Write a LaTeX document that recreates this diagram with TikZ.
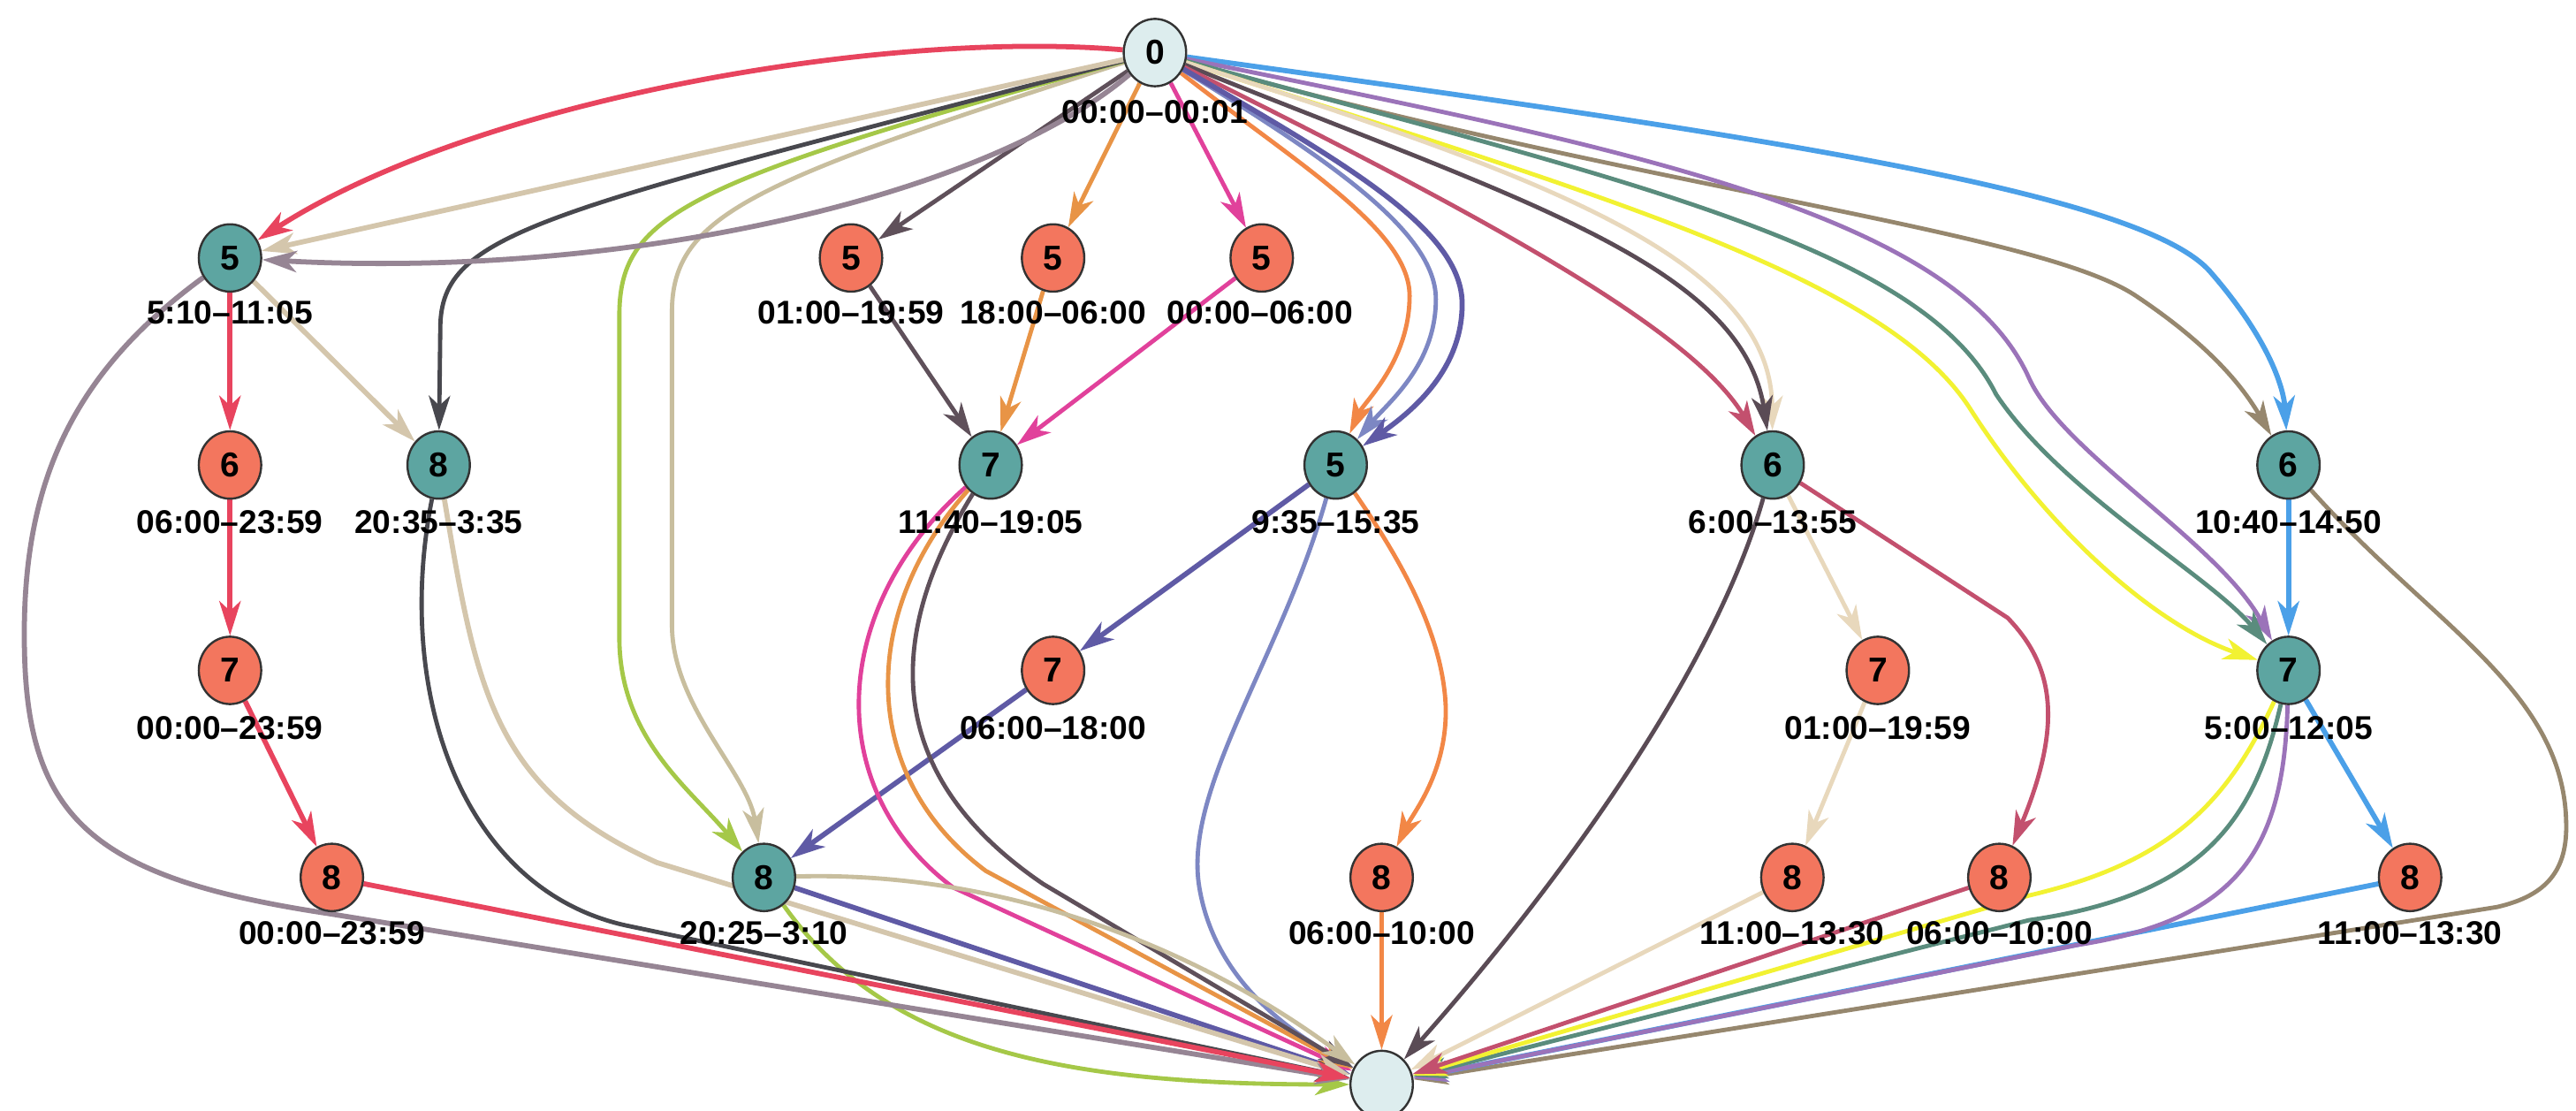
\documentclass[tikz,border=0pt]{standalone}
\usepackage{fontspec}
\setmainfont{Liberation Sans}
\usetikzlibrary{shapes.geometric,arrows.meta}
\pgfdeclarelayer{bg}
\pgfsetlayers{bg,main}
\definecolor{tealc}{RGB}{93,165,161}
\definecolor{salc}{RGB}{243,118,94}
\definecolor{lightc}{RGB}{221,237,238}
\definecolor{cRed}{RGB}{232,68,94}
\definecolor{cMauve}{RGB}{150,133,148}
\definecolor{cTan}{RGB}{212,198,172}
\definecolor{cDark}{RGB}{72,72,78}
\definecolor{cGreen}{RGB}{165,200,72}
\definecolor{cKhaki}{RGB}{200,190,158}
\definecolor{cSlate}{RGB}{95,90,165}
\definecolor{cPlum}{RGB}{95,80,90}
\definecolor{cOrange}{RGB}{232,148,70}
\definecolor{cPink}{RGB}{225,65,155}
\definecolor{cOrangeB}{RGB}{242,135,70}
\definecolor{cPeri}{RGB}{125,135,195}
\definecolor{cRose}{RGB}{195,80,110}
\definecolor{cDkBrown}{RGB}{90,75,85}
\definecolor{cWheat}{RGB}{232,216,188}
\definecolor{cYellow}{RGB}{242,242,50}
\definecolor{cTeal}{RGB}{90,140,125}
\definecolor{cPurple}{RGB}{155,115,185}
\definecolor{cBlue}{RGB}{75,160,232}
\definecolor{cBrown}{RGB}{150,135,110}
\tikzset{
  nd/.style={ellipse, draw=black!80, line width=1.3pt, minimum width=38pt, minimum height=41pt, inner sep=0pt, font=\fontsize{21}{23}\selectfont\bfseries},
  nteal/.style={nd, fill=tealc},
  nsal/.style={nd, fill=salc},
  nlight/.style={nd, fill=lightc},
  lbl/.style={font=\fontsize{20}{22}\selectfont\bfseries, inner sep=0pt},
  ed/.style={line width=2.6pt, -{Stealth[length=21pt,width=13pt,inset=6pt]}},
  edw/.style={ed, line width=3.1pt},
  eRed/.style={edw, draw=cRed},
  eMauve/.style={edw, draw=cMauve},
  eTan/.style={edw, draw=cTan},
  eDark/.style={ed, draw=cDark},
  eGreen/.style={ed, draw=cGreen},
  eKhaki/.style={ed, draw=cKhaki},
  eSlate/.style={edw, draw=cSlate},
  ePlum/.style={ed, draw=cPlum},
  eOrange/.style={ed, draw=cOrange},
  ePink/.style={ed, draw=cPink},
  eOrangeB/.style={ed, draw=cOrangeB},
  ePeri/.style={ed, draw=cPeri},
  eRose/.style={ed, draw=cRose},
  eDkBrown/.style={ed, draw=cDkBrown},
  eWheat/.style={ed, draw=cWheat},
  eYellow/.style={ed, draw=cYellow},
  eTeal/.style={ed, draw=cTeal},
  ePurple/.style={ed, draw=cPurple},
  eBlue/.style={edw, draw=cBlue},
  eBrown/.style={ed, draw=cBrown},
}
\begin{document}
\begin{tikzpicture}[x=1pt,y=-1pt]
\useasboundingbox (0,0) rectangle (1568,676);
% nodes
\node[nlight] (n0) at (703,32) {0};
\node[nteal] (a5) at (140,157) {5};
\node[nsal] (b5) at (518,157) {5};
\node[nsal] (c5) at (641,157) {5};
\node[nsal] (d5) at (768,157) {5};
\node[nsal] (a6) at (140,283) {6};
\node[nteal] (b8) at (267,283) {8};
\node[nteal] (c7) at (603,283) {7};
\node[nteal] (e5) at (813,283) {5};
\node[nteal] (f6) at (1079,283) {6};
\node[nteal] (g6) at (1393,283) {6};
\node[nsal] (a7) at (140,408) {7};
\node[nsal] (h7) at (641,408) {7};
\node[nsal] (i7) at (1143,408) {7};
\node[nteal] (j7) at (1393,408) {7};
\node[nsal] (a8) at (202,534) {8};
\node[nteal] (k8) at (465,534) {8};
\node[nsal] (l8) at (841,534) {8};
\node[nsal] (m8) at (1091,534) {8};
\node[nsal] (n8) at (1217,534) {8};
\node[nsal] (o8) at (1467,534) {8};
\node[nlight] (sink) at (841,660) {};
% labels
\node[lbl] (l0) at (703,68) {00:00–00:01};
\node[lbl] (la5) at (140,190) {5:10–11:05};
\node[lbl] (lb5) at (518,190) {01:00–19:59};
\node[lbl] (lc5) at (641,190) {18:00–06:00};
\node[lbl] (ld5) at (767,190) {00:00–06:00};
\node[lbl] (la6) at (140,318) {06:00–23:59};
\node[lbl] (lb8) at (267,318) {20:35–3:35};
\node[lbl] (lc7) at (603,318) {11:40–19:05};
\node[lbl] (le5) at (813,318) {9:35–15:35};
\node[lbl] (lf6) at (1079,318) {6:00–13:55};
\node[lbl] (lg6) at (1393,318) {10:40–14:50};
\node[lbl] (la7) at (140,443) {00:00–23:59};
\node[lbl] (lh7) at (641,443) {06:00–18:00};
\node[lbl] (li7) at (1143,443) {01:00–19:59};
\node[lbl] (lj7) at (1393,443) {5:00–12:05};
\node[lbl] (la8) at (202,568) {00:00–23:59};
\node[lbl] (lk8) at (465,568) {20:25–3:10};
\node[lbl] (ll8) at (841,568) {06:00–10:00};
\node[lbl] (lm8) at (1091,568) {11:00–13:30};
\node[lbl] (ln8) at (1217,568) {06:00–10:00};
\node[lbl] (lo8) at (1467,568) {11:00–13:30};
\begin{pgfonlayer}{bg}
\fill[white] (0,0) rectangle (1568,676);
% right side bundles first
\draw[eBrown] (n0) .. controls (1000,115) and (1240,140) .. (1300,180) .. controls (1345,210) and (1365,235) .. (g6);
\draw[eBrown] (g6) .. controls (1480,380) and (1560,420) .. (1562,500) .. controls (1563,530) and (1550,545) .. (1520,552) -- (sink);
\draw[eBlue] (n0) .. controls (1050,80) and (1300,115) .. (1345,165) .. controls (1380,205) and (1390,235) .. (g6);
\draw[eBlue] (g6) -- (j7);
\draw[eBlue] (j7) -- (o8);
\draw[eBlue] (o8) -- (sink);
\draw[ePurple] (n0) .. controls (990,90) and (1190,130) .. (1235,230) .. controls (1255,275) and (1350,330) .. (j7);
\draw[ePurple] (j7) .. controls (1390,520) and (1360,560) .. (1265,575) -- (sink);
\draw[eTeal] (n0) .. controls (990,110) and (1170,150) .. (1215,240) .. controls (1255,300) and (1345,350) .. (j7);
\draw[eTeal] (j7) .. controls (1372,500) and (1340,545) .. (1235,560) -- (sink);
\draw[eYellow] (n0) .. controls (980,120) and (1150,170) .. (1200,250) .. controls (1245,320) and (1310,380) .. (j7);
\draw[eYellow] (j7) .. controls (1355,490) and (1320,525) .. (1235,545) -- (sink);
\draw[eWheat] (n0) .. controls (950,110) and (1078,160) .. (f6);
\draw[eWheat] (f6) -- (i7);
\draw[eWheat] (i7) -- (m8);
\draw[eWheat] (m8) -- (sink);
\draw[eDkBrown] (n0) .. controls (920,120) and (1060,160) .. (f6);
\draw[eDkBrown] (f6) .. controls (1040,420) and (930,560) .. (sink);
\draw[eRose] (n0) .. controls (900,130) and (1030,200) .. (f6);
\draw[eRose] (f6) -- (1222,376) .. controls (1250,405) and (1256,440) .. (n8);
\draw[eRose] (n8) -- (sink);
% middle
\draw[eOrangeB] (n0) .. controls (790,100) and (858,140) .. (858,180) .. controls (858,220) and (830,245) .. (e5);
\draw[eOrangeB] (e5) .. controls (845,330) and (878,380) .. (880,430) .. controls (881,470) and (860,495) .. (l8);
\draw[eOrangeB] (l8) -- (sink);
\draw[ePeri] (n0) .. controls (805,95) and (874,140) .. (874,182) .. controls (874,222) and (845,245) .. (e5);
\draw[ePeri] (e5) .. controls (780,400) and (720,480) .. (730,540) .. controls (740,600) and (790,630) .. (sink);
\draw[eSlate] (n0) .. controls (820,100) and (890,140) .. (890,185) .. controls (890,225) and (860,250) .. (e5);
\draw[eSlate] (e5) -- (h7);
\draw[eSlate] (h7) -- (k8);
\draw[eSlate] (k8) -- (sink);
\draw[ePink] (n0) -- (d5);
\draw[ePink] (d5) -- (c7);
\draw[ePink] (c7) .. controls (505,370) and (500,480) .. (580,540) -- (sink);
\draw[eOrange] (n0) -- (c5);
\draw[eOrange] (c5) -- (c7);
\draw[eOrange] (c7) .. controls (525,370) and (520,470) .. (600,530) -- (sink);
\draw[ePlum] (n0) -- (b5);
\draw[ePlum] (b5) -- (c7);
\draw[ePlum] (c7) .. controls (540,385) and (535,470) .. (635,538) -- (sink);
% left
\draw[eKhaki] (n0) .. controls (460,110) and (409,130) .. (409,190) -- (409,380) .. controls (409,430) and (455,470) .. (k8);
\draw[eKhaki] (k8) .. controls (600,530) and (720,570) .. (sink);
\draw[eGreen] (n0) .. controls (420,110) and (378,130) .. (377,190) -- (377,390) .. controls (378,450) and (420,480) .. (k8);
\draw[eGreen] (k8) .. controls (540,640) and (650,660) .. (sink);
\draw[eDark] (n0) .. controls (330,130) and (268,140) .. (268,200) -- (b8);
\draw[eDark] (b8) .. controls (240,420) and (280,540) .. (380,563) -- (sink);
\draw[eTan] (n0) -- (a5);
\draw[eTan] (a5) -- (b8);
\draw[eTan] (b8) .. controls (290,420) and (300,480) .. (400,525) -- (sink);
\draw[eMauve] (n0) .. controls (600,120) and (380,170) .. (a5);
\draw[eMauve] (a5) .. controls (40,230) and (12,300) .. (15,400) .. controls (18,500) and (60,535) .. (200,556) -- (sink);
\draw[eRed] (n0) .. controls (540,18) and (290,60) .. (a5);
\draw[eRed] (a5) -- (a6);
\draw[eRed] (a6) -- (a7);
\draw[eRed] (a7) -- (a8);
\draw[eRed] (a8) -- (sink);
\end{pgfonlayer}
\end{tikzpicture}
\end{document}
